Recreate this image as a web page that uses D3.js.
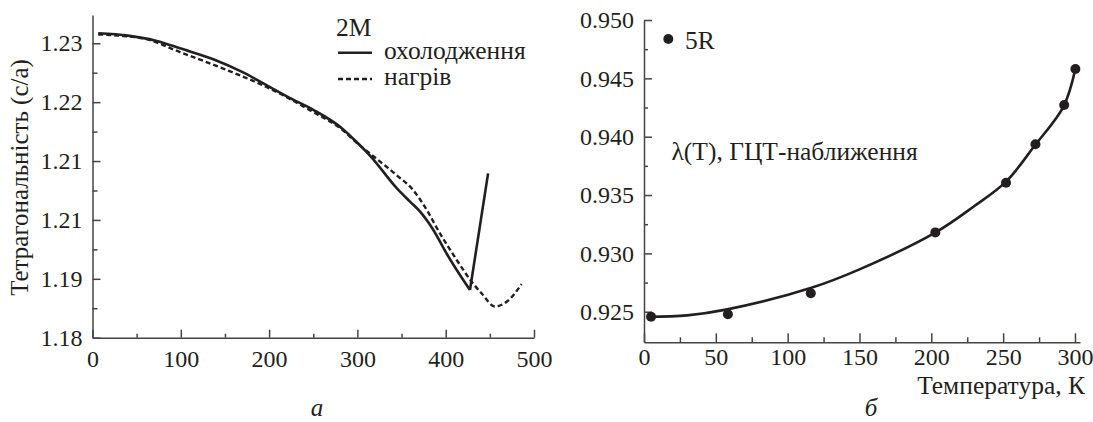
<!DOCTYPE html>
<html>
<head>
<meta charset="utf-8">
<script src="https://cdn.jsdelivr.net/npm/d3@7"></script>
<style>
  body { margin: 0; background: #fff; }
  svg { display: block; font-family: 'Liberation Serif', 'Times New Roman', serif; }
  .axis path, .axis line { stroke: #444; stroke-width: 1.5; }
  .lbl { font-size: 25.5px; fill: #231f20; }
  .cap { font-size: 25px; font-style: italic; fill: #231f20; }
</style>
</head>
<body>
<svg id="chart" width="1093" height="422"></svg>
<script>
// panel a: tetragonality c/a vs temperature, 2M
const coolT = [6.5, 40, 72.7, 100, 136.8, 170, 197, 225, 250, 283, 300, 315, 344.5, 359.6, 371, 386, 401, 412.5, 427.5, 448];
const coolV = [1.2317, 1.2313, 1.2304, 1.2291, 1.2273, 1.2251, 1.2229, 1.2206, 1.2187, 1.2155, 1.2131, 1.2108, 1.2054, 1.2031, 1.2014, 1.1983, 1.1943, 1.1915, 1.1881, 1.2079];
const heatT = [6.5, 30, 61, 99, 148, 201, 249, 283, 300, 314, 344.5, 363, 378.5, 393.5, 412.5, 429.4, 440.8, 455.8, 469, 486];
const heatV = [1.2315, 1.2313, 1.2307, 1.2285, 1.2257, 1.2223, 1.2184, 1.2153, 1.2130, 1.2113, 1.2076, 1.2051, 1.2017, 1.1977, 1.1932, 1.1895, 1.1875, 1.1853, 1.1861, 1.1891];
const aXTicks = [0, 100, 200, 300, 400, 500];
const aYTicks = [1.18, 1.19, 1.20, 1.21, 1.22, 1.23];
const aYLabels = ['1.18', '1.19', '1.21', '1.21', '1.22', '1.23'];
const aLegend = ['охолодження', 'нагрів'];

// panel б: lambda(T), 5R
const ptT = [4.9, 58.4, 116.1, 202.8, 252, 272.5, 292.5, 300.3];
const ptV = [0.92457, 0.92478, 0.92658, 0.9318, 0.93606, 0.93935, 0.94272, 0.9458];
const fitT = [3, 30, 58, 116, 150, 203, 230, 252, 272, 292, 300];
const fitV = [0.92457, 0.92469, 0.9252, 0.92703, 0.92863, 0.9318, 0.93406, 0.93615, 0.93924, 0.94258, 0.94566];
const bXTicks = [0, 50, 100, 150, 200, 250, 300];
const bYTicks = [0.925, 0.930, 0.935, 0.940, 0.945, 0.950];

const app = (function () {
  'use strict';

  const ink = '#231f20';
  const serif = "'Liberation Serif', 'Times New Roman', serif";

  function init () {
    const svg = d3.select('#chart');
    drawA(svg);
    drawB(svg);
  }

  // d3 puts sans-serif 10px on the axis group, set our own
  function styleAxis (g) {
    g.attr('font-family', serif).attr('font-size', 24);
    g.selectAll('text').style('font-family', serif).style('font-size', '24px').attr('fill', ink);
  }

  function drawA (svg) {
    const x = d3.scaleLinear().domain([0, 500]).range([92.5, 534]);
    const y = d3.scaleLinear().domain([1.18, 1.2348]).range([337.7, 15]);

    // minor ticks
    svg.append('g')
      .attr('class', 'axis')
      .attr('transform', 'translate(0,' + y.range()[0] + ')')
      .call(d3.axisBottom(x).tickValues(d3.range(50, 500, 100)).tickSizeInner(-4).tickSizeOuter(0).tickFormat(''))
      .select('.domain').remove();
    svg.append('g')
      .attr('class', 'axis')
      .attr('transform', 'translate(' + x.range()[0] + ',0)')
      .call(d3.axisLeft(y).tickValues([1.185, 1.195, 1.205, 1.215, 1.225]).tickSizeInner(-5).tickSizeOuter(0).tickFormat(''))
      .select('.domain').remove();

    svg.append('g')
      .attr('class', 'axis')
      .attr('transform', 'translate(0,' + y.range()[0] + ')')
      .call(d3.axisBottom(x).tickValues(aXTicks).tickSizeInner(-8).tickSizeOuter(0).tickPadding(12))
      .call(styleAxis);

    svg.append('g')
      .attr('class', 'axis')
      .attr('transform', 'translate(' + x.range()[0] + ',0)')
      .call(d3.axisLeft(y).tickValues(aYTicks).tickSizeInner(-8).tickSizeOuter(0).tickPadding(10)
        .tickFormat(function (d, i) { return aYLabels[i]; }))
      .call(styleAxis);

    // y label
    svg.append('text')
      .attr('class', 'lbl')
      .style('font-size', '25px')
      .attr('transform', 'translate(28,177.5) rotate(-90)')
      .style('text-anchor', 'middle')
      .text('Тетрагональність (с/а)');

    const line = d3.line()
      .x(function (d) { return x(d[0]); })
      .y(function (d) { return y(d[1]); })
      .curve(d3.curveMonotoneX);

    const heat = heatT.map(function (t, i) { return [t, heatV[i]]; });
    const cool = coolT.map(function (t, i) { return [t, coolV[i]]; });
    const bend = coolV.indexOf(d3.min(coolV));

    svg.append('path')
      .attr('d', line(heat))
      .attr('fill', 'none')
      .attr('stroke', ink)
      .attr('stroke-width', 2.4)
      .attr('stroke-dasharray', '5,3');

    svg.append('path')
      .attr('d', line(cool.slice(0, bend + 1)))
      .attr('fill', 'none')
      .attr('stroke', ink)
      .attr('stroke-width', 2.6);

    // straight jump after the minimum
    svg.append('path')
      .attr('d', line.curve(d3.curveLinear)(cool.slice(bend)))
      .attr('fill', 'none')
      .attr('stroke', ink)
      .attr('stroke-width', 2.6);

    // legend
    svg.append('text').attr('class', 'lbl').attr('x', 336).attr('y', 36).text('2M');
    svg.append('line')
      .attr('x1', 338).attr('x2', 372).attr('y1', 52.7).attr('y2', 52.7)
      .attr('stroke', ink).attr('stroke-width', 2.6);
    svg.append('text').attr('class', 'lbl').attr('x', 384).attr('y', 58.5).text(aLegend[0]);
    svg.append('line')
      .attr('x1', 338).attr('x2', 372).attr('y1', 79).attr('y2', 79)
      .attr('stroke', ink).attr('stroke-width', 2.4).attr('stroke-dasharray', '5,3');
    svg.append('text').attr('class', 'lbl').attr('x', 384).attr('y', 85).text(aLegend[1]);

    svg.append('text')
      .attr('class', 'cap')
      .attr('x', 317).attr('y', 416)
      .style('text-anchor', 'middle')
      .text('а');
  }

  function drawB (svg) {
    const x = d3.scaleLinear().domain([0, 303.5]).range([644, 1080]);
    const y = d3.scaleLinear().domain([0.92238, 0.950]).range([342.3, 20]);

    svg.append('g')
      .attr('class', 'axis')
      .attr('transform', 'translate(0,' + y.range()[0] + ')')
      .call(d3.axisBottom(x).tickValues(d3.range(25, 300, 50)).tickSizeInner(-5).tickSizeOuter(0).tickFormat(''))
      .select('.domain').remove();
    svg.append('g')
      .attr('class', 'axis')
      .attr('transform', 'translate(' + x.range()[0] + ',0)')
      .call(d3.axisLeft(y).tickValues([0.9275, 0.9325, 0.9375, 0.9425, 0.9475]).tickSizeInner(-4).tickSizeOuter(0).tickFormat(''))
      .select('.domain').remove();

    svg.append('g')
      .attr('class', 'axis')
      .attr('transform', 'translate(0,' + y.range()[0] + ')')
      .call(d3.axisBottom(x).tickValues(bXTicks).tickSizeInner(-9).tickSizeOuter(0).tickPadding(6))
      .call(styleAxis);

    svg.append('g')
      .attr('class', 'axis')
      .attr('transform', 'translate(' + x.range()[0] + ',0)')
      .call(d3.axisLeft(y).tickValues(bYTicks).tickSizeInner(-8).tickSizeOuter(0).tickPadding(10)
        .tickFormat(d3.format('.3f')))
      .call(styleAxis);

    const line = d3.line()
      .x(function (d, i) { return x(fitT[i]); })
      .y(function (d) { return y(d); })
      .curve(d3.curveCatmullRom.alpha(0.5));

    svg.append('path')
      .attr('d', line(fitV))
      .attr('fill', 'none')
      .attr('stroke', ink)
      .attr('stroke-width', 2.6);

    svg.selectAll('circle.pt')
      .data(ptV)
      .enter()
      .append('circle')
      .attr('class', 'pt')
      .attr('cx', function (d, i) { return x(ptT[i]); })
      .attr('cy', function (d) { return y(d); })
      .attr('r', 5)
      .attr('fill', ink);

    // legend
    svg.append('circle').attr('cx', 668.3).attr('cy', 39).attr('r', 5).attr('fill', ink);
    svg.append('text').attr('class', 'lbl').attr('x', 685).attr('y', 49).text('5R');
    svg.append('text').attr('class', 'lbl').attr('x', 671.5).attr('y', 160).text('λ(T), ГЦТ-наближення');

    svg.append('text')
      .attr('class', 'lbl')
      .attr('x', 1085).attr('y', 394)
      .style('text-anchor', 'end')
      .text('Температура, К');

    svg.append('text')
      .attr('class', 'cap')
      .attr('x', 871).attr('y', 416)
      .style('text-anchor', 'middle')
      .text('б');
  }

  return {
    init: init
  };
}());

window.addEventListener('load', app.init);
</script>
</body>
</html>
